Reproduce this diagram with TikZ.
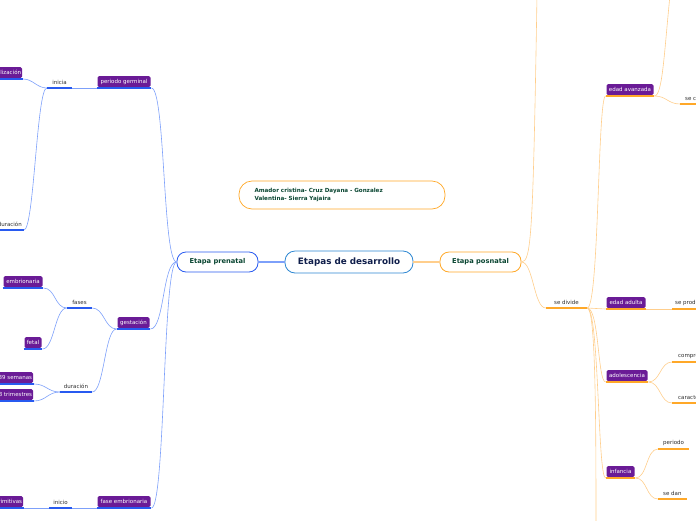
\documentclass[tikz,border=0pt]{standalone}
\usepackage{fontspec}
\setmainfont{DejaVu Sans}
\usepackage{tikz}
\usetikzlibrary{positioning}
\definecolor{mmpurple}{RGB}{106,27,150}
\definecolor{lineblue}{RGB}{125,160,250}
\definecolor{ulblue}{RGB}{40,90,240}
\definecolor{lineorange}{RGB}{255,206,140}
\definecolor{ulorange}{RGB}{255,168,40}
\definecolor{cenblue}{RGB}{45,135,210}
\definecolor{navytext}{RGB}{15,30,75}
\definecolor{greentext}{RGB}{10,70,50}
\definecolor{graytext}{RGB}{45,45,45}

\begin{document}
\begin{tikzpicture}[x=1pt,y=-1pt,
  every node/.style={font=\fontsize{5.5}{6.5}\selectfont},
  central/.style={draw=cenblue,line width=0.8pt,rounded corners=10pt,fill=white,
    minimum width=128pt,minimum height=22pt,text=navytext,
    font=\fontsize{8.8}{10}\selectfont\bfseries},
  stage/.style={line width=0.8pt,rounded corners=9pt,fill=white,
    minimum width=81pt,minimum height=20pt,text=greentext,
    font=\fontsize{6.7}{8}\selectfont\bfseries},
  note/.style={draw=ulorange,line width=0.7pt,rounded corners=13pt,
    minimum height=28pt,text width=175pt,inner xsep=15.5pt,align=left,
    text=greentext,font=\fontsize{5.6}{7.6}\selectfont\bfseries},
  tag/.style={fill=mmpurple,text=white,rounded corners=1.5pt,inner sep=1pt,
    minimum height=11pt,outer sep=0.9pt},
  lbl/.style={text=graytext,inner xsep=0pt,inner ysep=2.8pt},
  lb/.style={draw=lineblue,line width=0.6pt},
  lo/.style={draw=lineorange,line width=0.6pt},
  ulb/.style={draw=ulblue,line width=1.6pt},
  ulo/.style={draw=ulorange,line width=1.6pt} ]
  \useasboundingbox (0,0) rectangle (696,520);
  \clip (0,0) rectangle (696,520);

  \node[central] (cent) at (349,262) {Etapas de desarrollo};
  \node[stage,draw=ulblue] (pren) at (217.5,262) {Etapa prenatal};
  \node[stage,draw=ulorange] (post) at (480.5,262) {Etapa posnatal};
  \node[note] (autores) at (342,195) {Amador cristina- Cruz Dayana - Gonzalez\\ Valentina- Sierra Yajaira};

  % prenatal side
  \node[tag,minimum width=53pt,anchor=south] (germ) at (124,88) {periodo germinal};
  \node[tag,minimum width=32pt,anchor=south] (gest) at (133.5,329) {gestación};
  \node[tag,minimum width=53pt,anchor=south] (femb) at (124,508) {fase embrionaria};
  \node[lbl,minimum width=25pt,anchor=south] (inicia) at (59.5,88) {inicia};
  \node[tag,anchor=south east] (fert) at (23,79) {fertilización};
  \node[lbl,inner xsep=2pt,anchor=south east] (dur) at (24,230) {duración};
  \node[lbl,minimum width=25pt,anchor=south] (fases) at (79.5,308) {fases};
  \node[lbl,minimum width=32pt,anchor=south] (durg) at (76,392) {duración};
  \node[tag,minimum width=39pt,anchor=south] (embr) at (23,288) {embrionaria};
  \node[tag,minimum width=17pt,anchor=south] (fetal) at (33,349) {fetal};
  \node[tag,anchor=south east] (sem) at (34,384) {38 a 39 semanas};
  \node[tag,anchor=south east] (trim) at (34,401) {3 trimestres};
  \node[lbl,minimum width=23pt,anchor=south] (inicio) at (60.5,508) {inicio};
  \node[tag,anchor=south east] (prim) at (24,508) {capas primitivas};

  % posnatal side
  \node[lbl,minimum width=41pt,anchor=south] (sediv) at (566.5,308) {se divide};
  \node[tag,minimum width=47pt,anchor=south] (avz) at (630,96) {edad avanzada};
  \node[tag,minimum width=39pt,anchor=south] (adul) at (626,309) {edad adulta};
  \node[tag,minimum width=41pt,anchor=south] (adol) at (627,382) {adolescencia};
  \node[tag,minimum width=28pt,anchor=south] (inf) at (620.5,478) {infancia};
  \node[lbl,inner xsep=5pt,anchor=south west] (sec) at (680,104) {se caracteriza};
  \node[lbl,inner xsep=3pt,anchor=south west] (seprod) at (672,309) {se producen};
  \node[lbl,inner xsep=6pt,anchor=south west] (compr) at (672,362) {comprende};
  \node[lbl,inner xsep=6pt,anchor=south west] (caract) at (672,403) {características};
  \node[lbl,inner xsep=5pt,anchor=south west] (periodo) at (658,449) {periodo};
  \node[lbl,inner xsep=5pt,anchor=south west] (sedan) at (658,499) {se dan};
  \coordinate (topa) at (537,-5);
  \coordinate (topb) at (670,-5);
  \coordinate (bota) at (596,525);

  \draw[lb,line width=1.2pt] (pren.east) -- (cent.west);
  \draw[lo,line width=1.2pt] (cent.east) -- (post.west);

  \draw[lb] (pren.west) .. controls +(-14,0) and +(14,0) .. (germ.south east);
  \draw[lb] (pren.west) .. controls +(-14,0) and +(14,0) .. (gest.south east);
  \draw[lb] (pren.west) .. controls +(-14,0) and +(14,0) .. (femb.south east);
  \draw[lb] (germ.south west) -- (inicia.south east);
  \draw[lb] (inicia.south west) .. controls +(-10,0) and +(10,0) .. (fert.south east);
  \draw[lb] (inicia.south west) .. controls +(-10,0) and +(10,0) .. (dur.south east);
  \draw[lb] (gest.south west) .. controls +(-12,0) and +(12,0) .. (fases.south east);
  \draw[lb] (gest.south west) .. controls +(-12,0) and +(12,0) .. (durg.south east);
  \draw[lb] (fases.south west) .. controls +(-12,0) and +(12,0) .. (embr.south east);
  \draw[lb] (fases.south west) .. controls +(-12,0) and +(12,0) .. (fetal.south east);
  \draw[lb] (durg.south west) .. controls +(-12,0) and +(12,0) .. (sem.south east);
  \draw[lb] (durg.south west) .. controls +(-12,0) and +(12,0) .. (trim.south east);
  \draw[lb] (femb.south west) -- (inicio.south east);
  \draw[lb] (inicio.south west) -- (prim.south east);

  \draw[lo] (post.east) .. controls +(10,0) and +(-4,240) .. (topa);
  \draw[lo] (post.east) .. controls +(12,0) and +(-12,0) .. (sediv.south west);
  \draw[lo] (sediv.south east) .. controls +(12,0) and +(-8,0) .. (avz.south west);
  \draw[lo] (sediv.south east) -- (adul.south west);
  \draw[lo] (sediv.south east) .. controls +(12,0) and +(-8,0) .. (adol.south west);
  \draw[lo] (sediv.south east) .. controls +(12,0) and +(-8,0) .. (inf.south west);
  \draw[lo] (sediv.south east) .. controls +(8,0) and +(0,-120) .. (bota);
  \draw[lo] (avz.south east) .. controls +(8,0) and +(-6,60) .. (topb);
  \draw[lo] (avz.south east) .. controls +(12,0) and +(-12,0) .. (sec.south west);
  \draw[lo] (adul.south east) -- (seprod.south west);
  \draw[lo] (adol.south east) .. controls +(12,0) and +(-12,0) .. (compr.south west);
  \draw[lo] (adol.south east) .. controls +(12,0) and +(-12,0) .. (caract.south west);
  \draw[lo] (inf.south east) .. controls +(12,0) and +(-12,0) .. (periodo.south west);
  \draw[lo] (inf.south east) .. controls +(12,0) and +(-12,0) .. (sedan.south west);

  \foreach \n in {germ,gest,femb,inicia,fert,dur,fases,durg,embr,fetal,sem,trim,inicio,prim}
    \draw[ulb] (\n.south west) -- (\n.south east);
  \foreach \n in {sediv,avz,adul,adol,inf,sec,seprod,compr,caract,periodo,sedan}
    \draw[ulo] (\n.south west) -- (\n.south east);
\end{tikzpicture}
\end{document}
